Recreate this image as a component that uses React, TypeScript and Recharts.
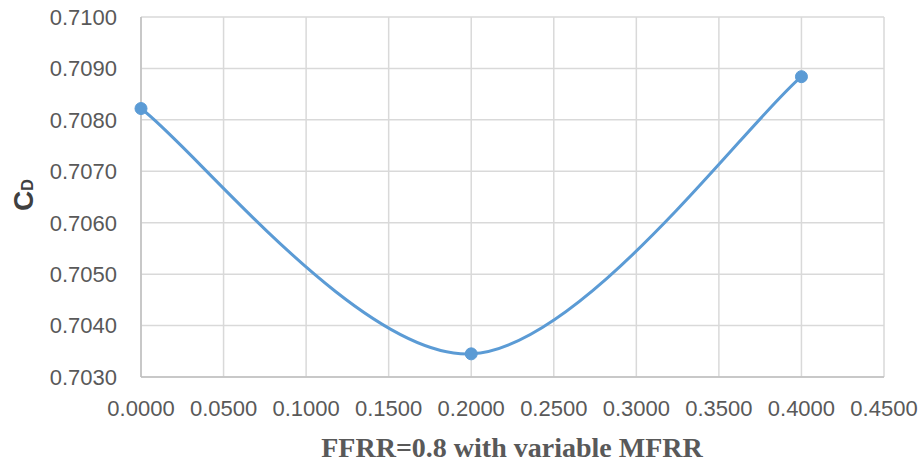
import React from 'react';
import { LineChart, Line, XAxis, YAxis, CartesianGrid } from 'recharts';

// MFRR values at FFRR = 0.8 and the resulting drag coefficient
const mfrr = [0, 0.2, 0.4];
const cd = [0.70822, 0.70345, 0.70884];

const xTicks = [0, 0.05, 0.1, 0.15, 0.2, 0.25, 0.3, 0.35, 0.4, 0.45];
const yTicks = [0.703, 0.704, 0.705, 0.706, 0.707, 0.708, 0.709, 0.71];

const data = mfrr.map((x, i) => ({ x, cd: cd[i] }));

const LINE_COLOR = '#5b9bd5';
const tickStyle = { fill: '#595959', fontSize: 22, fontFamily: 'Liberation Sans, Arial, sans-serif' };

// Spreadsheet-style smoothed line: cubic Bezier segments whose control
// points follow the neighbouring points (Catmull-Rom, 1/6 factor).
const smoothCurve = (context: any) => {
  let pts: number[][] = [];
  return {
    areaStart() {},
    areaEnd() {},
    lineStart() {
      pts = [];
    },
    point(x: number, y: number) {
      pts.push([+x, +y]);
    },
    lineEnd() {
      if (!pts.length) return;
      context.moveTo(pts[0][0], pts[0][1]);
      for (let i = 0; i < pts.length - 1; i++) {
        const p0 = pts[Math.max(i - 1, 0)];
        const p1 = pts[i];
        const p2 = pts[i + 1];
        const p3 = pts[Math.min(i + 2, pts.length - 1)];
        context.bezierCurveTo(
          p1[0] + (p2[0] - p0[0]) / 6,
          p1[1] + (p2[1] - p0[1]) / 6,
          p2[0] - (p3[0] - p1[0]) / 6,
          p2[1] - (p3[1] - p1[1]) / 6,
          p2[0],
          p2[1]
        );
      }
    },
  };
};

const XTitle = () => (
  <text
    x={512}
    y={457}
    textAnchor="middle"
    fill="#595959"
    fontSize={28}
    fontWeight="bold"
    fontFamily="Liberation Serif, Times New Roman, serif"
  >
    FFRR=0.8 with variable MFRR
  </text>
);

const YTitle = () => (
  <text
    x={33}
    y={195}
    transform="rotate(-90, 33, 195)"
    textAnchor="middle"
    fill="#404040"
    fontWeight="bold"
    fontFamily="Liberation Sans, Arial, sans-serif"
    fontSize={28}
  >
    C<tspan fontSize={16}>D</tspan>
  </text>
);

export default function App() {
  return (
    <div style={{ position: 'absolute', left: 0, top: 0, width: 922, height: 465, background: '#fff' }}>
      <LineChart
        width={922}
        height={465}
        data={data}
        margin={{ top: 17, right: 38, left: 41, bottom: 38 }}
      >
        <CartesianGrid stroke="#d9d9d9" strokeWidth={1.5} />
        <XAxis
          dataKey="x"
          type="number"
          domain={[0, 0.45]}
          ticks={xTicks}
          tickFormatter={(v: number) => v.toFixed(4)}
          tick={tickStyle}
          tickLine={false}
          tickSize={0}
          tickMargin={23}
          axisLine={{ stroke: '#bfbfbf', strokeWidth: 1.5 }}
          height={50}
          interval={0}
          label={<XTitle />}
        />
        <YAxis
          type="number"
          domain={[0.703, 0.71]}
          ticks={yTicks}
          tickFormatter={(v: number) => v.toFixed(4)}
          tick={tickStyle}
          tickLine={false}
          tickSize={0}
          tickMargin={24}
          axisLine={{ stroke: '#bfbfbf', strokeWidth: 1.5 }}
          width={100}
          interval={0}
          allowDataOverflow
          label={<YTitle />}
        />
        <Line
          type={smoothCurve as any}
          dataKey="cd"
          stroke={LINE_COLOR}
          strokeWidth={3}
          dot={{ r: 6, fill: LINE_COLOR, stroke: LINE_COLOR, strokeWidth: 1 }}
          isAnimationActive={false}
        />
      </LineChart>
    </div>
  );
}
